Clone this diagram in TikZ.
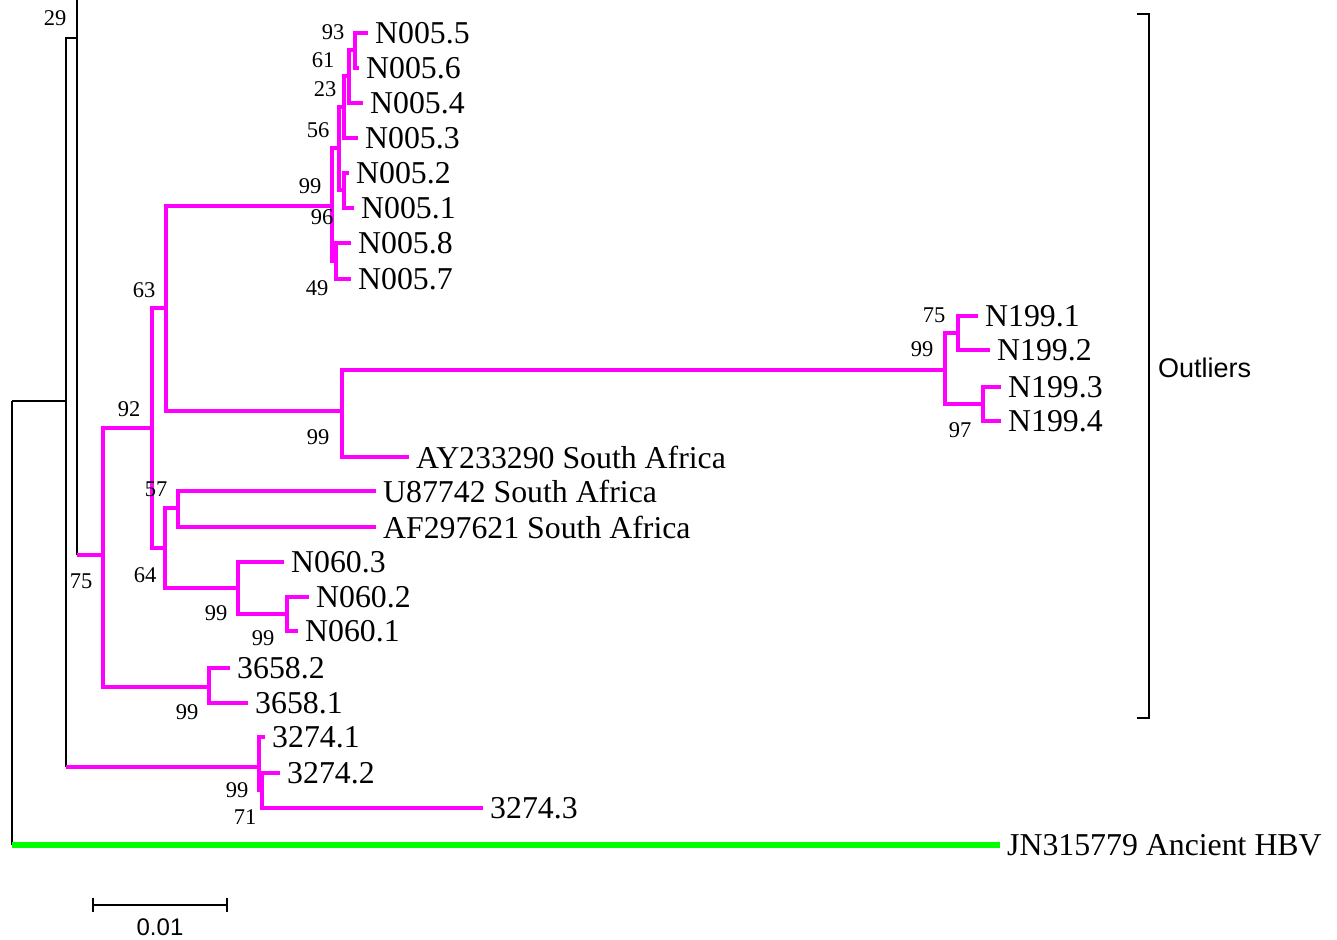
\documentclass[tikz,border=0pt]{standalone}
\usepackage{fontspec}
\setmainfont{Liberation Serif}
\newfontfamily\arialf{Liberation Sans}
\definecolor{mg}{HTML}{FF00FF}
\definecolor{gr}{HTML}{00FF00}
\begin{document}
\begin{tikzpicture}[x=1pt,y=-1pt,
  blk/.style={draw=black,line width=1.6pt,line join=miter},
  mgl/.style={draw=mg,line width=4.8pt,line join=miter},
  grl/.style={draw=gr,line width=6pt},
  bs/.style={font=\fontsize{22.5}{22.5}\selectfont,inner sep=0pt},
  tip/.style={font=\fontsize{31.8}{31.8}\selectfont,anchor=west,inner sep=0pt,xshift=7pt},
  sans/.style={font=\arialf\fontsize{#1}{#1}\selectfont,inner sep=0pt}]
\useasboundingbox (0,0) rectangle (1337,939);
% ---- coordinates: internal nodes
\coordinate (r0) at (12,401);
\coordinate (n1) at (66,401);
\coordinate (n2) at (77,38);
\coordinate (ntop) at (77,0);
\coordinate (n2b) at (77,555);
\coordinate (A75) at (103,555);
\coordinate (n92) at (152,428);
\coordinate (n63) at (166,308);
\coordinate (n64) at (165,548);
\coordinate (R) at (332,206);
\coordinate (d) at (339,148);
\coordinate (c) at (344,107);
\coordinate (b) at (349,76);
\coordinate (a) at (355,50);
\coordinate (e) at (344,190);
\coordinate (g) at (336,261);
\coordinate (nAY) at (342,411);
\coordinate (nN199) at (945,370);
\coordinate (n75b) at (958,333);
\coordinate (n97) at (983,404);
\coordinate (n57) at (178,508);
\coordinate (n99c) at (238,588);
\coordinate (n99d) at (287,614);
\coordinate (c3658) at (209,687);
\coordinate (n1b) at (66,767);
\coordinate (c3274) at (259,767);
\coordinate (c71) at (262,790);
\coordinate (rb) at (12,845);
% ---- tips
\coordinate (t55) at (368,33);
\coordinate (t56) at (359,68);
\coordinate (t54) at (363,103);
\coordinate (t53) at (358,138);
\coordinate (t52) at (349,173);
\coordinate (t51) at (354,208);
\coordinate (t58) at (351,243);
\coordinate (t57) at (351,279);
\coordinate (u1) at (978,316);
\coordinate (u2) at (990,350);
\coordinate (u3) at (1001,387);
\coordinate (u4) at (1001,421);
\coordinate (tAY) at (409,457);
\coordinate (tU) at (376,491);
\coordinate (tAF) at (376,527);
\coordinate (v3) at (284,562);
\coordinate (v2) at (309,597);
\coordinate (v1) at (298,631);
\coordinate (w2) at (230,668);
\coordinate (w1) at (248,703);
\coordinate (x1) at (265,737);
\coordinate (x2) at (280,773);
\coordinate (x3) at (483,808);
\coordinate (tJN) at (1000,845);
% ---- black part
\draw[blk] (r0) -- (n1);
\draw[blk] (r0) -- (rb);
\draw[blk] (n1) |- (n2);
\draw[blk] (n2) -- (ntop);
\draw[blk] (n2) -- (n2b);
\draw[blk] (n1) -- (n1b);
% ---- green outgroup
\draw[grl] (rb) -- (tJN);
% ---- magenta clades
\draw[mgl] (n2b) -- (A75);
\draw[mgl] (n1b) -- (c3274);
\draw[mgl] (A75) |- (n92);
\draw[mgl] (A75) |- (c3658);
\draw[mgl] (n92) |- (n63);
\draw[mgl] (n92) |- (n64);
\draw[mgl] (n63) |- (R);
\draw[mgl] (n63) |- (nAY);
\draw[mgl] (R) |- (d);
\draw[mgl] (R) |- (g);
\draw[mgl] (d) |- (c);
\draw[mgl] (d) |- (e);
\draw[mgl] (c) |- (b);
\draw[mgl] (c) |- (t53);
\draw[mgl] (b) |- (a);
\draw[mgl] (b) |- (t54);
\draw[mgl] (a) |- (t55);
\draw[mgl] (a) |- (t56);
\draw[mgl] (e) |- (t52);
\draw[mgl] (e) |- (t51);
\draw[mgl] (g) |- (t58);
\draw[mgl] (g) |- (t57);
\draw[mgl] (nAY) |- (nN199);
\draw[mgl] (nAY) |- (tAY);
\draw[mgl] (nN199) |- (n75b);
\draw[mgl] (nN199) |- (n97);
\draw[mgl] (n75b) |- (u1);
\draw[mgl] (n75b) |- (u2);
\draw[mgl] (n97) |- (u3);
\draw[mgl] (n97) |- (u4);
\draw[mgl] (n64) |- (n57);
\draw[mgl] (n64) |- (n99c);
\draw[mgl] (n57) |- (tU);
\draw[mgl] (n57) |- (tAF);
\draw[mgl] (n99c) |- (v3);
\draw[mgl] (n99c) |- (n99d);
\draw[mgl] (n99d) |- (v2);
\draw[mgl] (n99d) |- (v1);
\draw[mgl] (c3658) |- (w2);
\draw[mgl] (c3658) |- (w1);
\draw[mgl] (c3274) |- (x1);
\draw[mgl] (c3274) |- (c71);
\draw[mgl] (c71) |- (x2);
\draw[mgl] (c71) |- (x3);
% ---- tip labels
\node[tip] (l55) at (t55) {N005.5};
\node[tip] (l56) at (t56) {N005.6};
\node[tip] (l54) at (t54) {N005.4};
\node[tip] (l53) at (t53) {N005.3};
\node[tip] (l52) at (t52) {N005.2};
\node[tip] (l51) at (t51) {N005.1};
\node[tip] (l58) at (t58) {N005.8};
\node[tip] (l57) at (t57) {N005.7};
\node[tip] (lu1) at (u1) {N199.1};
\node[tip] (lu2) at (u2) {N199.2};
\node[tip] (lu3) at (u3) {N199.3};
\node[tip] (lu4) at (u4) {N199.4};
\node[tip] (lAY) at (tAY) {AY233290 South Africa};
\node[tip] (lU) at (tU) {U87742 South Africa};
\node[tip] (lAF) at (tAF) {AF297621 South Africa};
\node[tip] (lv3) at (v3) {N060.3};
\node[tip] (lv2) at (v2) {N060.2};
\node[tip] (lv1) at (v1) {N060.1};
\node[tip] (lw2) at (w2) {3658.2};
\node[tip] (lw1) at (w1) {3658.1};
\node[tip] (lx1) at (x1) {3274.1};
\node[tip] (lx2) at (x2) {3274.2};
\node[tip] (lx3) at (x3) {3274.3};
\node[tip] (lJN) at (tJN) {JN315779 Ancient HBV};
% ---- bootstrap values
\node[bs] (b29) at (55,18) {29};
\node[bs] (b93) at (333,32) {93};
\node[bs] (b61) at (323,60) {61};
\node[bs] (b23) at (325,89) {23};
\node[bs] (b56) at (318,130) {56};
\node[bs] (b99a) at (310,186) {99};
\node[bs] (b96) at (322,217) {96};
\node[bs] (b49) at (317,288) {49};
\node[bs] (b63) at (144,290) {63};
\node[bs] (b92) at (129,409) {92};
\node[bs] (b99b) at (318,437) {99};
\node[bs] (b57) at (156,489) {57};
\node[bs] (b64) at (145,575) {64};
\node[bs] (b75) at (81,581) {75};
\node[bs] (b99c) at (216,613) {99};
\node[bs] (b99d) at (263,638) {99};
\node[bs] (b99e) at (187,712) {99};
\node[bs] (b99f) at (237,790) {99};
\node[bs] (b71) at (245,817) {71};
\node[bs] (b75b) at (934,315) {75};
\node[bs] (b99g) at (922,349) {99};
\node[bs] (b97) at (960,430) {97};
% ---- bracket
\coordinate (k1) at (1137,14);
\coordinate (k2) at (1149,14);
\coordinate (k3) at (1149,718);
\coordinate (k4) at (1137,718);
\draw[blk] (k1) -- (k2) -- (k3) -- (k4);
\node[sans=27,anchor=west] (out) at (1158,368) {Outliers};
% ---- scale bar
\coordinate (s1) at (93,905);
\coordinate (s2) at (227,905);
\draw[blk] (s1) -- (s2);
\draw[blk] ([yshift=-7pt]s1) -- ([yshift=7pt]s1);
\draw[blk] ([yshift=-7pt]s2) -- ([yshift=7pt]s2);
\node[sans=24] (sc) at (160,927) {0.01};
\end{tikzpicture}
\end{document}
